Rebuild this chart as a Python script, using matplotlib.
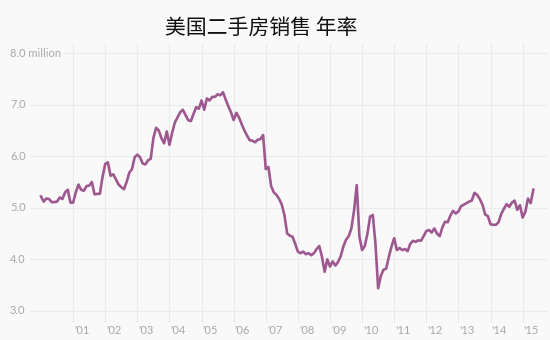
import numpy as np
import matplotlib
matplotlib.use("Agg")
import matplotlib.pyplot as plt
import matplotlib.transforms as mtransforms

# existing home sales, seasonally adjusted annual rate (millions), monthly from Jan 2000
sales_2000 = [5.22, 5.12, 5.18, 5.17, 5.11, 5.11, 5.12, 5.20, 5.17, 5.30, 5.35, 5.10]
sales_2001 = [5.10, 5.30, 5.45, 5.35, 5.33, 5.42, 5.43, 5.50, 5.26, 5.27, 5.27, 5.60]
sales_2002 = [5.85, 5.88, 5.62, 5.65, 5.55, 5.45, 5.40, 5.36, 5.50, 5.68, 5.75, 5.98]
sales_2003 = [6.03, 5.98, 5.86, 5.84, 5.92, 5.95, 6.35, 6.55, 6.50, 6.35, 6.25, 6.48]
sales_2004 = [6.22, 6.45, 6.65, 6.75, 6.85, 6.90, 6.80, 6.70, 6.68, 6.82, 6.95, 6.92]
sales_2005 = [7.08, 6.90, 7.12, 7.08, 7.15, 7.15, 7.20, 7.18, 7.24, 7.10, 6.97, 6.85]
sales_2006 = [6.70, 6.84, 6.75, 6.62, 6.50, 6.40, 6.31, 6.30, 6.27, 6.32, 6.33, 6.41]
sales_2007 = [5.75, 5.79, 5.42, 5.30, 5.25, 5.17, 5.06, 4.85, 4.50, 4.46, 4.44, 4.30]
sales_2008 = [4.15, 4.12, 4.15, 4.10, 4.12, 4.08, 4.12, 4.20, 4.26, 4.05, 3.76, 4.00]
sales_2009 = [3.86, 3.96, 3.88, 3.95, 4.06, 4.25, 4.38, 4.45, 4.60, 4.95, 5.44, 4.44]
sales_2010 = [4.18, 4.26, 4.50, 4.83, 4.86, 4.30, 3.44, 3.68, 3.80, 3.82, 4.05, 4.25]
sales_2011 = [4.41, 4.18, 4.22, 4.18, 4.20, 4.16, 4.30, 4.36, 4.34, 4.37, 4.36, 4.45]
sales_2012 = [4.55, 4.57, 4.52, 4.60, 4.50, 4.45, 4.62, 4.73, 4.72, 4.85, 4.94, 4.89]
sales_2013 = [4.93, 5.03, 5.06, 5.09, 5.12, 5.14, 5.29, 5.25, 5.17, 5.06, 4.87, 4.84]
sales_2014 = [4.68, 4.67, 4.67, 4.72, 4.88, 4.98, 5.07, 5.02, 5.10, 5.14, 4.96, 5.05]
sales_2015 = [4.81, 4.92, 5.18, 5.09, 5.35]

y_ticks = [3.0, 4.0, 5.0, 6.0, 7.0, 8.0]
y_labels = ["3.0", "4.0", "5.0", "6.0", "7.0", "8.0 million"]
x_years = list(range(2001, 2016))
x_labels = ["'%02d" % (y % 100) for y in x_years]

sales = (sales_2000 + sales_2001 + sales_2002 + sales_2003 + sales_2004 + sales_2005
         + sales_2006 + sales_2007 + sales_2008 + sales_2009 + sales_2010 + sales_2011
         + sales_2012 + sales_2013 + sales_2014 + sales_2015)
t = 2000 + np.arange(len(sales)) / 12.0

bg = "#f9f9f9"
grid_c = "#ebebeb"
label_c = "#a8a8a8"
line_c = "#9e5890"

fig = plt.figure(figsize=(5.5, 3.4), dpi=100, facecolor=bg)
ax = fig.add_axes([30 / 550, 17 / 340, 518 / 550, 280 / 340])
ax.set_facecolor(bg)

ax.set_xlim(1999.657, 2015.79)
ax.set_ylim(2.767, 8.194)

for yv in y_ticks:
    ax.axhline(yv, color=grid_c, lw=0.8, zorder=0)
for xv in x_years:
    ax.axvline(xv, color=grid_c, lw=0.8, zorder=0)

ax.plot(t, sales, color=line_c, lw=1.9, solid_joinstyle="round", zorder=3)

# y labels sit inside the left margin, boxed so they cut the gridline
for yv, lab in zip(y_ticks, y_labels):
    tr = mtransforms.offset_copy(ax.get_yaxis_transform(), fig=fig, x=-20, y=0, units="dots")
    ax.text(0, yv, lab, transform=tr, fontsize=8, family="Lato", color=label_c,
            ha="left", va="center", clip_on=False, zorder=4,
            bbox=dict(facecolor=bg, edgecolor="none", pad=1.5))

for xv, lab in zip(x_years, x_labels):
    tr = mtransforms.offset_copy(ax.get_xaxis_transform(), fig=fig, x=1, y=-7, units="dots")
    ax.text(xv, 0, lab, transform=tr, fontsize=8, family="Lato", color=label_c,
            ha="left", va="center", clip_on=False)

for s in ax.spines.values():
    s.set_visible(False)
ax.set_xticks([])
ax.set_yticks([])

fig.text(261 / 550, 1 - 28 / 340, "美国二手房销售 年率", ha="center", va="center",
         fontsize=15, family=["Noto Sans CJK SC", "DejaVu Sans"], color="#111111")

fig.savefig("out.png", dpi=100, facecolor=bg)
